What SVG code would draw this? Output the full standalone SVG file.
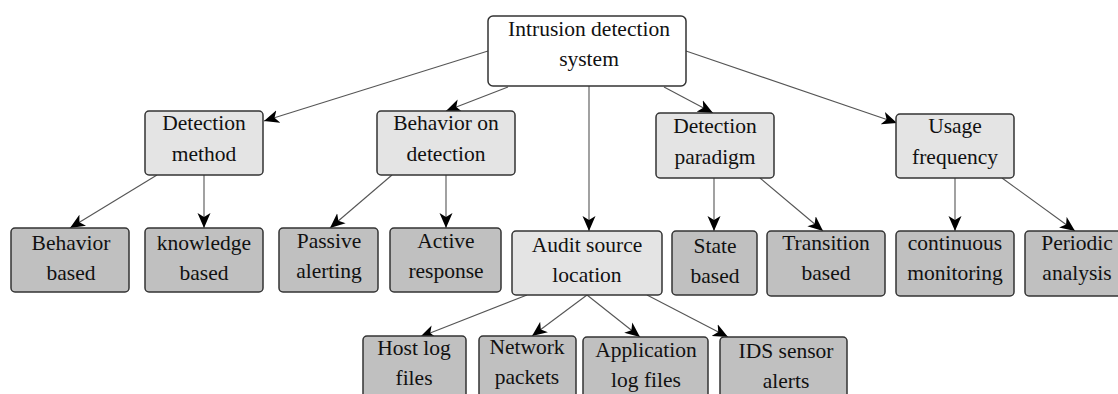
<svg xmlns="http://www.w3.org/2000/svg" width="1118" height="394" viewBox="0 0 1118 394">
<style>
  .box{stroke:#333;stroke-width:1.5}
  .root{fill:#ffffff}
  .mid{fill:#e4e4e4}
  .leaf{fill:#c0c0c0}
  .edge{stroke:#555;stroke-width:1.1;fill:none;marker-end:url(#arr)}
</style>
<defs>
  <marker id="arr" markerUnits="userSpaceOnUse" viewBox="0 -7 15 14" markerWidth="15" markerHeight="14" refX="15" refY="0" orient="auto">
    <path d="M0,-6.5 L15,0 L0,6.5 L4,0 Z" fill="#000"/>
  </marker>
</defs>
<rect width="1118" height="394" fill="#fff"/>
<g id="connectors">
  <line class="edge" x1="488" y1="51" x2="264" y2="121"/>
  <line class="edge" x1="508" y1="87" x2="446" y2="111"/>
  <line class="edge" x1="589" y1="86" x2="589" y2="231"/>
  <line class="edge" x1="664" y1="87" x2="713" y2="113"/>
  <line class="edge" x1="686" y1="51" x2="897" y2="123"/>
  <line class="edge" x1="157" y1="175" x2="70" y2="228"/>
  <line class="edge" x1="204" y1="175" x2="204" y2="228"/>
  <line class="edge" x1="392" y1="175" x2="330" y2="228"/>
  <line class="edge" x1="446" y1="175" x2="446" y2="228"/>
  <line class="edge" x1="714" y1="178" x2="714" y2="231"/>
  <line class="edge" x1="760" y1="178" x2="823" y2="231"/>
  <line class="edge" x1="955" y1="178" x2="955" y2="231"/>
  <line class="edge" x1="1002" y1="178" x2="1075" y2="231"/>
  <line class="edge" x1="527" y1="295" x2="420" y2="337"/>
  <line class="edge" x1="587" y1="295" x2="532" y2="336"/>
  <line class="edge" x1="587" y1="295" x2="640" y2="337"/>
  <line class="edge" x1="647" y1="295" x2="728" y2="337"/>
</g>
<g font-family="Liberation Serif, serif" font-size="21.5" fill="#111" text-anchor="middle">
<g id="n-root"><rect class="box root" x="488" y="16" width="198" height="70" rx="5"/><text x="589" y="36">Intrusion detection</text><text x="589" y="66">system</text></g>
<g id="n-method"><rect class="box mid" x="145" y="111" width="118" height="64" rx="4"/><text x="204" y="130">Detection</text><text x="204" y="161">method</text></g>
<g id="n-behavior"><rect class="box mid" x="377" y="111" width="138" height="64" rx="4"/><text x="446" y="130">Behavior on</text><text x="446" y="161">detection</text></g>
<g id="n-paradigm"><rect class="box mid" x="656" y="113" width="118" height="65" rx="4"/><text x="715" y="133">Detection</text><text x="715" y="164">paradigm</text></g>
<g id="n-usage"><rect class="box mid" x="896" y="114" width="118" height="64" rx="4"/><text x="955" y="133">Usage</text><text x="955" y="164">frequency</text></g>
<g id="n-bbased"><rect class="box leaf" x="11" y="228" width="118" height="64" rx="4"/><text x="71" y="250">Behavior</text><text x="71" y="280">based</text></g>
<g id="n-kbased"><rect class="box leaf" x="145" y="228" width="118" height="64" rx="4"/><text x="204" y="250">knowledge</text><text x="204" y="280">based</text></g>
<g id="n-passive"><rect class="box leaf" x="279" y="228" width="99" height="64" rx="4"/><text x="329" y="248">Passive</text><text x="329" y="278">alerting</text></g>
<g id="n-active"><rect class="box leaf" x="390" y="228" width="111" height="64" rx="4"/><text x="446" y="248">Active</text><text x="446" y="278">response</text></g>
<g id="n-audit"><rect class="box mid" x="512" y="231" width="150" height="64" rx="4"/><text x="587" y="252">Audit source</text><text x="587" y="282">location</text></g>
<g id="n-state"><rect class="box leaf" x="672" y="231" width="85" height="64" rx="4"/><text x="715" y="253">State</text><text x="715" y="283">based</text></g>
<g id="n-transition"><rect class="box leaf" x="767" y="231" width="118" height="65" rx="4"/><text x="826" y="250">Transition</text><text x="826" y="280">based</text></g>
<g id="n-continuous"><rect class="box leaf" x="896" y="231" width="118" height="65" rx="4"/><text x="955" y="250">continuous</text><text x="955" y="280">monitoring</text></g>
<g id="n-periodic"><rect class="box leaf" x="1025" y="231" width="110" height="65" rx="4"/><text x="1077" y="250">Periodic</text><text x="1077" y="280">analysis</text></g>
<g id="n-host"><rect class="box leaf" x="363" y="336" width="103" height="70" rx="4"/><text x="414" y="355">Host log</text><text x="414" y="385">files</text></g>
<g id="n-network"><rect class="box leaf" x="479" y="336" width="97" height="70" rx="4"/><text x="527" y="354">Network</text><text x="527" y="384">packets</text></g>
<g id="n-app"><rect class="box leaf" x="583" y="337" width="125" height="70" rx="4"/><text x="646" y="357">Application</text><text x="646" y="387">log files</text></g>
<g id="n-ids"><rect class="box leaf" x="720" y="337" width="127" height="70" rx="4"/><text x="786" y="358">IDS sensor</text><text x="786" y="388">alerts</text></g>
</g>
</svg>
